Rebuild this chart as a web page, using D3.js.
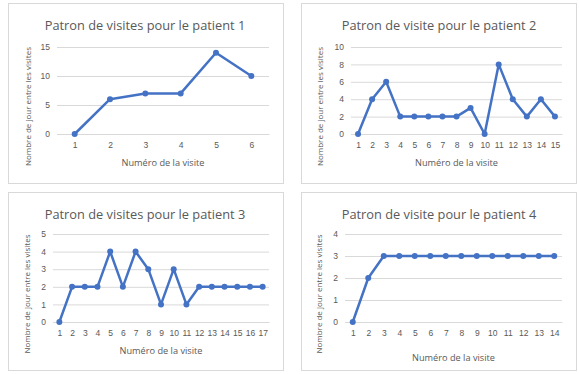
<!DOCTYPE html>
<html>
<head>
<meta charset="utf-8">
<script src="https://cdn.jsdelivr.net/npm/d3@7"></script>
<style>
  body { margin: 0; background: #fff; }
  svg { display: block; font-family: "Open Sans", "Noto Sans", sans-serif; }
</style>
</head>
<body>
<div id="chart"></div>
<script>
// data
const titles = [
  "Patron de visites pour le patient 1",
  "Patron de visite pour le patient 2",
  "Patron de visites pour le patient 3",
  "Patron de visite pour le patient 4"
];
const days1 = [0, 6, 7, 7, 14, 10];
const days2 = [0, 4, 6, 2, 2, 2, 2, 2, 3, 0, 8, 4, 2, 4, 2];
const days3 = [0, 2, 2, 2, 4, 2, 4, 3, 1, 3, 1, 2, 2, 2, 2, 2, 2];
const days4 = [0, 2, 3, 3, 3, 3, 3, 3, 3, 3, 3, 3, 3, 3];
const yTicks1 = [0, 5, 10, 15];
const yTicks2 = [0, 2, 4, 6, 8, 10];
const yTicks3 = [0, 1, 2, 3, 4, 5];
const yTicks4 = [0, 1, 2, 3, 4];
const xTitle = "Numéro de la visite";
const yTitle = "Nombre de jour entre les  visites";

const blue = "#4472c4", grey = "#595959", grid = "#d9d9d9";

const svg = d3.select("#chart").append("svg")
  .attr("width", 579).attr("height", 374);

// panel boxes + plot areas (layout only)
const panels = [
  { data: days1, ticks: yTicks1, title: titles[0],
    box: [8, 3, 275, 180], plot: [57, 269, 47, 134], yLab: 31, xTitleY: 166, tcx: 145 },
  { data: days2, ticks: yTicks2, title: titles[1],
    box: [301, 3, 275, 180], plot: [351, 562, 47, 134], yLab: 323, xTitleY: 166, tcx: 439 },
  { data: days3, ticks: yTicks3, title: titles[2],
    box: [8, 192, 275, 178], plot: [53, 269, 234, 322], yLab: 30, xTitleY: 354, tcx: 145 },
  { data: days4, ticks: yTicks4, title: titles[3],
    box: [301, 192, 275, 178], plot: [345, 562, 234, 322], yLab: 322, xTitleY: 361, tcx: 439 }
];

panels.forEach(p => {
  const g = svg.append("g");
  const [bx, by, bw, bh] = p.box;
  const [x0, x1, yTop, yBot] = p.plot;

  g.append("rect")
    .attr("x", bx + 0.5).attr("y", by + 0.5)
    .attr("width", bw).attr("height", bh)
    .attr("fill", "#fff").attr("stroke", grid);

  const visits = p.data.map((d, i) => i + 1);
  const x = d3.scalePoint().domain(visits).range([x0, x1]).padding(0.5);
  const y = d3.scaleLinear().domain([0, d3.max(p.ticks)]).range([yBot, yTop]);

  // gridlines + y labels
  const yAxis = d3.axisLeft(y).tickValues(p.ticks).tickFormat(d3.format("d"))
    .tickSize(-(x1 - x0)).tickPadding(7);
  const ya = g.append("g").attr("transform", `translate(${x0},0)`).call(yAxis);
  ya.select(".domain").remove();
  ya.selectAll("line").attr("stroke", grid);
  ya.selectAll("text").attr("fill", grey).attr("font-size", 8.5);

  // x labels
  const xAxis = d3.axisBottom(x).tickSize(0).tickPadding(8);
  const xa = g.append("g").attr("transform", `translate(0,${yBot})`).call(xAxis);
  xa.select(".domain").attr("stroke", grid);
  xa.selectAll("text").attr("fill", grey).attr("font-size", 8.5);

  // title
  g.append("text")
    .attr("x", p.tcx).attr("y", by + 27)
    .attr("text-anchor", "middle")
    .attr("fill", grey).attr("font-size", 12.8)
    .text(p.title);

  // axis titles
  g.append("text")
    .attr("x", (x0 + x1) / 2).attr("y", p.xTitleY)
    .attr("text-anchor", "middle")
    .attr("fill", grey).attr("font-size", 9.2)
    .text(xTitle);

  g.append("text")
    .attr("transform", `translate(${p.yLab},${(yTop + yBot) / 2 + 16}) rotate(-90)`)
    .attr("text-anchor", "middle")
    .attr("fill", grey).attr("font-size", 8)
    .text(yTitle);

  // series
  const line = d3.line().x((d, i) => x(i + 1)).y(d => y(d));
  g.append("path")
    .datum(p.data)
    .attr("d", line)
    .attr("fill", "none")
    .attr("stroke", blue)
    .attr("stroke-width", 2.5)
    .attr("stroke-linejoin", "round");

  g.selectAll("circle.pt")
    .data(p.data)
    .enter().append("circle")
    .attr("class", "pt")
    .attr("cx", (d, i) => x(i + 1))
    .attr("cy", d => y(d))
    .attr("r", 3)
    .attr("fill", blue);
});
</script>
</body>
</html>
